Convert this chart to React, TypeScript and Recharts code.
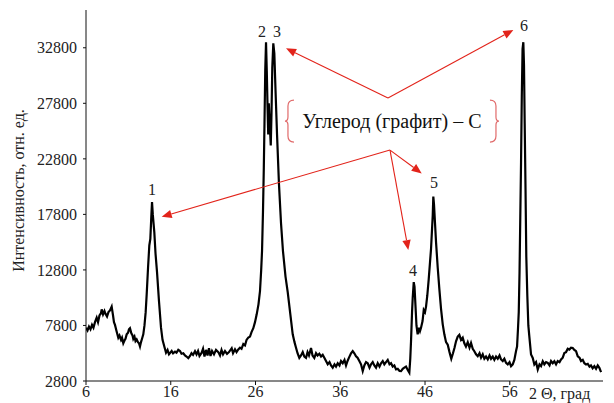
import React from 'react';
import { LineChart, Line, XAxis, YAxis, ReferenceLine, ReferenceDot } from 'recharts';

const twoTheta = [
  6.00, 6.18, 6.35, 6.53, 6.71, 6.88, 7.06, 7.26, 7.42, 7.59, 7.77, 7.85, 8.01, 8.18, 8.30, 8.48, 8.65, 8.83, 9.03, 9.19,
  9.30, 9.42, 9.60, 9.81, 9.95, 10.13, 10.25, 10.40, 10.54, 10.66, 10.80, 10.96, 11.07, 11.19, 11.35, 11.49, 11.58, 11.72, 11.84, 11.98,
  12.13, 12.25, 12.37, 12.49, 12.61, 12.76, 12.90, 13.04, 13.16, 13.32, 13.47, 13.59, 13.70, 13.79, 13.88, 14.06, 14.20, 14.38, 14.61, 14.85,
  15.03, 15.24, 15.44, 15.62, 15.79, 16.11, 16.27, 16.50, 16.68, 16.89, 17.09, 17.27, 17.48, 17.68, 17.86, 18.07, 18.27, 18.45, 18.63, 18.86,
  19.04, 19.22, 19.39, 19.65, 19.81, 19.98, 20.16, 20.34, 20.51, 20.69, 20.87, 21.10, 21.34, 21.61, 21.81, 21.99, 22.17, 22.40, 22.64, 22.87,
  23.19, 23.35, 23.58, 23.76, 23.97, 24.17, 24.35, 24.56, 24.76, 24.94, 25.15, 25.35, 25.53, 25.74, 25.94, 26.14, 26.35, 26.53, 26.67, 26.77,
  26.88, 26.98, 27.06, 27.15, 27.24, 27.33, 27.42, 27.50, 27.57, 27.64, 27.71, 27.80, 27.89, 27.98, 28.10, 28.22, 28.36, 28.54, 28.77, 29.01,
  29.24, 29.54, 29.80, 30.11, 30.39, 30.60, 30.78, 30.96, 31.17, 31.37, 31.57, 31.76, 31.96, 32.14, 32.31, 32.55, 32.73, 32.94, 33.14, 33.32,
  33.53, 33.73, 33.93, 34.12, 34.32, 34.52, 34.73, 34.91, 35.11, 35.32, 35.50, 35.70, 35.91, 36.09, 36.29, 36.50, 36.68, 36.86, 37.03, 37.27,
  37.47, 37.66, 37.86, 38.04, 38.25, 38.45, 38.65, 38.84, 39.04, 39.24, 39.45, 39.63, 39.83, 40.02, 40.22, 40.42, 40.63, 40.81, 41.01, 41.20,
  41.40, 41.60, 41.81, 41.99, 42.19, 42.38, 42.58, 42.78, 42.99, 43.17, 43.37, 43.56, 43.76, 43.96, 44.15, 44.26, 44.35, 44.47, 44.55, 44.67,
  44.76, 44.88, 44.99, 45.13, 45.29, 45.41, 45.53, 45.71, 45.85, 46.00, 46.12, 46.27, 46.44, 46.59, 46.71, 46.83, 46.91, 46.98, 47.06, 47.18,
  47.30, 47.50, 47.69, 47.89, 48.09, 48.28, 48.48, 48.68, 48.89, 49.10, 49.30, 49.48, 49.66, 49.86, 50.05, 50.25, 50.45, 50.64, 50.83, 51.04,
  51.25, 51.43, 51.63, 51.82, 52.02, 52.22, 52.43, 52.61, 52.81, 53.00, 53.20, 53.40, 53.61, 53.79, 53.99, 54.18, 54.38, 54.58, 54.79, 54.97,
  55.17, 55.36, 55.56, 55.76, 55.97, 56.15, 56.35, 56.54, 56.74, 56.86, 56.97, 57.06, 57.15, 57.24, 57.33, 57.42, 57.51, 57.60, 57.68, 57.76,
  57.86, 57.95, 58.07, 58.19, 58.31, 58.51, 58.71, 58.90, 59.10, 59.30, 59.51, 59.69, 59.89, 60.08, 60.28, 60.48, 60.69, 60.87, 61.07, 61.26,
  61.46, 61.66, 61.87, 62.05, 62.25, 62.44, 62.64, 62.84, 63.03, 63.23, 63.43, 63.62, 63.82, 64.02, 64.23, 64.41, 64.61, 64.80, 65.00, 65.20,
  65.41, 65.58, 65.78, 65.98, 66.18, 66.38, 66.57, 66.77,
];

const intensity = [
  7600, 7350, 7700, 7450, 7850, 7600, 8100, 8500, 8100, 8700, 8900, 9250, 8800, 9100, 8850, 8600, 9000, 9150, 9500, 8700,
  8100, 7850, 7300, 6700, 6900, 6500, 6700, 6200, 6450, 6600, 7000, 7150, 7450, 7550, 7100, 6900, 6600, 6800, 6400, 6550,
  6300, 6200, 5900, 6300, 6600, 7000, 7800, 9000, 10600, 13000, 15000, 15600, 17500, 18900, 17800, 16200, 14300, 12600, 10000, 7600,
  6500, 5900, 5350, 5600, 5200, 5500, 5300, 5450, 5350, 5600, 5500, 5250, 5300, 5100, 5000, 4850, 5050, 5300, 5150, 5480,
  5200, 5500, 5050, 5350, 5700, 5000, 5600, 5100, 5750, 5050, 5500, 5200, 5600, 5400, 5100, 5600, 5200, 5500, 5250, 5400,
  5750, 5300, 5650, 5400, 5640, 5800, 5700, 6120, 6000, 6500, 6700, 6800, 7200, 7550, 8100, 8800, 9700, 10900, 12800, 14500,
  18000, 22000, 26000, 30800, 33300, 30700, 27500, 25000, 27800, 26500, 25500, 24000, 27000, 31000, 33200, 32300, 29000, 25000, 20500, 17000,
  14500, 12200, 10800, 8800, 7000, 6300, 5800, 5300, 4880, 5100, 5400, 5000, 4880, 5400, 5100, 5770, 5100, 4880, 5300, 5100,
  5250, 5000, 5150, 4900, 4600, 4300, 4500, 4200, 4000, 4300, 4100, 4400, 4200, 4600, 4400, 4700, 4200, 4600, 4900, 5300,
  5500, 5300, 5030, 4900, 4600, 4300, 3700, 4200, 4500, 4400, 4000, 4300, 4500, 4200, 4000, 4400, 4100, 4400, 4600, 4300,
  4500, 4700, 4300, 4400, 4100, 4200, 3840, 3900, 3700, 3690, 3900, 4000, 4100, 3800, 3550, 4800, 6400, 9000, 10300, 11700,
  11300, 9500, 7800, 7000, 7600, 7300, 7600, 8200, 9200, 9000, 9500, 10500, 12000, 13500, 14700, 16500, 17700, 19400, 18700, 17000,
  15300, 13000, 11100, 9300, 7900, 7000, 6300, 6070, 5400, 4800, 5300, 5800, 6370, 6800, 6960, 6500, 6700, 6200, 5900, 6300,
  5800, 6220, 5700, 5480, 5200, 5030, 5300, 4900, 5200, 4800, 5000, 4740, 5100, 4800, 5000, 4700, 5000, 4800, 5100, 4740,
  4600, 4800, 4430, 4300, 4500, 4140, 4300, 4700, 5500, 5900, 7500, 9000, 12500, 17500, 22500, 28500, 32700, 33300, 31200, 26000,
  20000, 14000, 10500, 7800, 6800, 5180, 4880, 4290, 4500, 3840, 4300, 4140, 4580, 4300, 4500, 4430, 4200, 4600, 4400, 4580,
  4300, 4600, 4500, 4740, 4900, 5320, 5400, 5700, 5630, 5800, 5770, 5600, 5480, 5030, 4900, 4600, 4700, 4400, 4290, 4350,
  4100, 4200, 3950, 4140, 3900, 4200, 3990, 3600,
];

const xTicks = [6, 16, 26, 36, 46, 56];
const yTicks = [2800, 7800, 12800, 17800, 22800, 27800, 32800];

const peakNames = ['1', '2', '3', '4', '5', '6'];
const peakLabelX = [13.79, 26.77, 28.54, 44.58, 47.06, 57.68];
const peakLabelY = [20080, 34300, 34300, 12790, 20710, 34840];

// arrows: start (apex) -> tip
const arrowFromX = [41.63, 41.63, 41.87, 41.87, 41.87];
const arrowFromY = [28270, 28270, 23590, 23590, 23590];
const arrowToX = [29.6, 56.42, 14.93, 44.03, 45.61];
const arrowToY = [32750, 34400, 17590, 14590, 21490];

const noteText = 'Углерод (графит) – С';
const noteX = 42.1;
const noteY = 26200;

const data = twoTheta.map((x, i) => ({ x, y: intensity[i] }));

const FONT = "Liberation Serif, Times New Roman, serif";
const RED = '#e2231a';
const BRACKET = '#e06a6a';

const ArrowShape = (props: any) => {
  const { x1, y1, x2, y2 } = props;
  if ([x1, y1, x2, y2].some((v) => typeof v !== 'number' || isNaN(v))) return null;
  const ang = Math.atan2(y2 - y1, x2 - x1);
  const L = 10;
  const W = 4.2;
  const bx = x2 - L * Math.cos(ang);
  const by = y2 - L * Math.sin(ang);
  const p1x = bx + W * Math.sin(ang);
  const p1y = by - W * Math.cos(ang);
  const p2x = bx - W * Math.sin(ang);
  const p2y = by + W * Math.cos(ang);
  return (
    <g>
      <line x1={x1} y1={y1} x2={bx} y2={by} stroke={RED} strokeWidth={1.1} />
      <polygon points={`${x2},${y2} ${p1x},${p1y} ${p2x},${p2y}`} fill={RED} />
    </g>
  );
};

const NoteShape = (props: any) => {
  const { cx, cy } = props;
  if (typeof cx !== 'number' || typeof cy !== 'number') return null;
  const hw = 104;
  const top = cy - 21;
  const bot = cy + 21;
  const l = cx - hw;
  const r = cx + hw;
  const left = `M ${l + 6} ${top} Q ${l} ${top} ${l} ${top + 6} L ${l} ${cy - 4} Q ${l} ${cy} ${l - 3} ${cy} Q ${l} ${cy} ${l} ${cy + 4} L ${l} ${bot - 6} Q ${l} ${bot} ${l + 6} ${bot}`;
  const right = `M ${r - 6} ${top} Q ${r} ${top} ${r} ${top + 6} L ${r} ${cy - 4} Q ${r} ${cy} ${r + 3} ${cy} Q ${r} ${cy} ${r} ${cy + 4} L ${r} ${bot - 6} Q ${r} ${bot} ${r - 6} ${bot}`;
  return (
    <g>
      <path d={left} fill="none" stroke={BRACKET} strokeWidth={1.2} />
      <path d={right} fill="none" stroke={BRACKET} strokeWidth={1.2} />
      <text x={cx} y={cy} textAnchor="middle" dominantBaseline="central" style={{ fontFamily: FONT, fontSize: 20 }} fill="#111">
        {noteText}
      </text>
    </g>
  );
};

const makeLabelShape = (text: string) => (props: any) => {
  const { cx, cy } = props;
  if (typeof cx !== 'number' || typeof cy !== 'number') return null;
  return (
    <text x={cx} y={cy} textAnchor="middle" dominantBaseline="central" style={{ fontFamily: FONT, fontSize: 16 }} fill="#222">
      {text}
    </text>
  );
};

const YLabel = (props: any) => {
  const vb = props.viewBox || {};
  const x = (vb.x ?? 0) + 18;
  const y = (vb.y ?? 10) + (vb.height ?? 371) / 2 - 5;
  return (
    <text x={x} y={y} transform={`rotate(-90, ${x}, ${y})`} textAnchor="middle" dominantBaseline="central" style={{ fontFamily: FONT, fontSize: 16 }} fill="#222">
      Интенсивность, отн. ед.
    </text>
  );
};

const XLabel = (props: any) => {
  const vb = props.viewBox || {};
  const x = (vb.x ?? 86) + (vb.width ?? 517) - 74;
  const y = (vb.y ?? 381) + 12;
  return (
    <text x={x} y={y} textAnchor="start" dominantBaseline="central" style={{ fontFamily: FONT, fontSize: 16 }} fill="#222">
      2 Θ, град
    </text>
  );
};

const tickStyle = { fontFamily: FONT, fontSize: 16, fill: '#222' };

export default function App() {
  return (
    <div style={{ position: 'absolute', left: 0, top: 0, width: 614, height: 403, background: '#fff', fontFamily: FONT }}>
      <LineChart width={614} height={403} data={data} margin={{ top: 10, right: 11, bottom: 0, left: 0 }} style={{ fontFamily: FONT }}>
        <XAxis
          dataKey="x"
          type="number"
          domain={[6, 67]}
          ticks={xTicks}
          allowDataOverflow
          height={22}
          stroke="#111"
          tickSize={4}
          tickMargin={1}
          tick={tickStyle}
          label={<XLabel />}
        />
        <YAxis
          type="number"
          domain={[2800, 36200]}
          ticks={yTicks}
          allowDataOverflow
          width={86}
          stroke="#111"
          tickSize={3}
          tickMargin={6}
          tick={tickStyle}
          label={<YLabel />}
        />
        <Line
          dataKey="y"
          type="linear"
          stroke="#000"
          strokeWidth={2.2}
          dot={false}
          activeDot={false}
          isAnimationActive={false}
        />
        {arrowFromX.map((fx, i) => (
          <ReferenceLine
            key={`arr${i}`}
            segment={[
              { x: fx, y: arrowFromY[i] },
              { x: arrowToX[i], y: arrowToY[i] },
            ]}
            ifOverflow="visible"
            shape={ArrowShape}
          />
        ))}
        <ReferenceDot x={noteX} y={noteY} r={0} ifOverflow="visible" shape={NoteShape} />
        {peakNames.map((name, i) => (
          <ReferenceDot
            key={`pk${i}`}
            x={peakLabelX[i]}
            y={peakLabelY[i]}
            r={0}
            ifOverflow="visible"
            shape={makeLabelShape(name)}
          />
        ))}
      </LineChart>
    </div>
  );
}
